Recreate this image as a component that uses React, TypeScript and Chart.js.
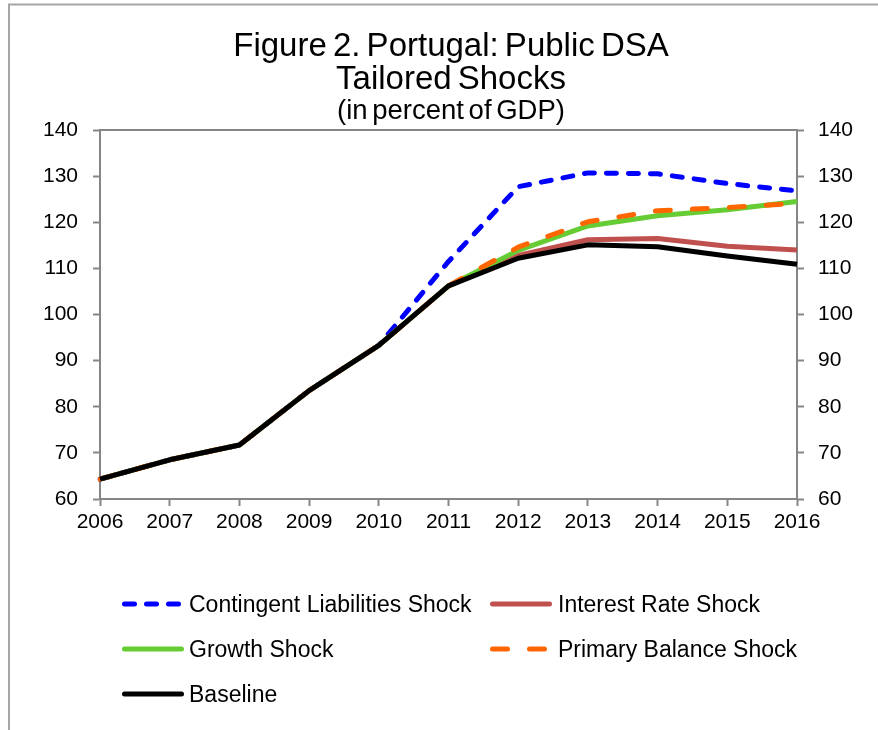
import React, { useEffect, useRef } from "react";
import { Chart, registerables } from "chart.js";

Chart.register(...registerables);

const years = ["2006", "2007", "2008", "2009", "2010", "2011", "2012", "2013", "2014", "2015", "2016"];
const contingentLiabilities = [64.3, 68.5, 71.7, 83.5, 93.3, 111.5, 127.7, 130.7, 130.5, 128.4, 126.8];
const interestRate = [64.3, 68.5, 71.7, 83.5, 93.3, 106.2, 112.8, 116.2, 116.5, 114.8, 114.0];
const growth = [64.3, 68.5, 71.7, 83.5, 93.3, 106.2, 113.9, 119.2, 121.4, 122.7, 124.5];
const primaryBalance = [64.3, 68.5, 71.7, 83.5, 93.3, 106.2, 114.6, 120.1, 122.5, 123.2, 124.1];
const baseline = [64.3, 68.5, 71.7, 83.5, 93.3, 106.2, 112.2, 115.1, 114.7, 112.7, 110.9];

const titleLines = ["Figure 2. Portugal: Public DSA", "Tailored Shocks"];
const subtitle = "(in percent of GDP)";
const yMin = 60;
const yMax = 140;
const yStep = 10;

const FONT = "'Liberation Sans', Arial, sans-serif";
const AXIS = "#868686";

const overlayPlugin = {
  id: "overlay",
  afterDraw(chart: any) {
    const ctx = chart.ctx;
    const area = chart.chartArea;
    ctx.save();
    // outer frame
    ctx.strokeStyle = "#a6a6a6";
    ctx.lineWidth = 2;
    ctx.beginPath();
    ctx.moveTo(9, 740);
    ctx.lineTo(9, 4.5);
    ctx.lineTo(890, 4.5);
    ctx.stroke();
    // top border of plot
    ctx.strokeStyle = AXIS;
    ctx.lineWidth = 2;
    ctx.beginPath();
    ctx.moveTo(area.left, area.top);
    ctx.lineTo(area.right, area.top);
    ctx.stroke();
    // title
    ctx.fillStyle = "#000";
    ctx.textAlign = "center";
    ctx.textBaseline = "alphabetic";
    try { (ctx as any).wordSpacing = "-3px"; } catch (e) {}
    ctx.font = `33px ${FONT}`;
    ctx.fillText(titleLines[0], 451, 56);
    ctx.fillText(titleLines[1], 451, 89);
    ctx.font = `27.5px ${FONT}`;
    ctx.fillText(subtitle, 451, 119);
    try { (ctx as any).wordSpacing = "0px"; } catch (e) {}
    // legend
    const slots = [
      { x: 124.5, tx: 189, y: 604 },
      { x: 492.5, tx: 558, y: 604 },
      { x: 124.5, tx: 189, y: 649 },
      { x: 492.5, tx: 558, y: 649 },
      { x: 124.5, tx: 189, y: 694 },
    ];
    chart.data.datasets.forEach((ds: any, i: number) => {
      const s = slots[i];
      ctx.strokeStyle = ds.borderColor;
      ctx.lineWidth = 5;
      ctx.lineCap = "round";
      ctx.setLineDash(ds.borderDash || []);
      ctx.beginPath();
      ctx.moveTo(s.x, s.y);
      ctx.lineTo(s.x + 57, s.y);
      ctx.stroke();
      ctx.setLineDash([]);
      ctx.fillStyle = "#000";
      ctx.textAlign = "left";
      ctx.textBaseline = "middle";
      ctx.font = `23px ${FONT}`;
      ctx.fillText(ds.label, s.tx, s.y + 1.5);
    });
    ctx.restore();
  },
};

export default function App() {
  const ref = useRef<HTMLCanvasElement | null>(null);
  useEffect(() => {
    if (!ref.current) return;
    const common = { pointRadius: 0, borderWidth: 5, tension: 0, fill: false, borderJoinStyle: "round" as const };
    const chart = new Chart(ref.current, {
      type: "line",
      data: {
        labels: years,
        datasets: [
          { ...common, label: "Contingent Liabilities Shock", data: contingentLiabilities, borderColor: "#0000ff", borderDash: [10, 12], borderCapStyle: "round", order: 5 },
          { ...common, label: "Interest Rate Shock", data: interestRate, borderColor: "#c0504d", order: 4 },
          { ...common, label: "Growth Shock", data: growth, borderColor: "#66cc33", order: 3 },
          { ...common, label: "Primary Balance Shock", data: primaryBalance, borderColor: "#ff6600", borderDash: [15, 22], borderCapStyle: "round", order: 2 },
          { ...common, label: "Baseline", data: baseline, borderColor: "#000000", order: 1 },
        ],
      },
      options: {
        responsive: false,
        animation: false,
        layout: { padding: { left: 0, right: 0, top: 130, bottom: 191 } },
        plugins: {
          legend: { display: false },
          title: { display: false },
          tooltip: { enabled: false },
        },
        scales: {
          x: {
            offset: false,
            grid: { drawOnChartArea: false, drawTicks: true, tickLength: 7, tickWidth: 2, tickColor: AXIS },
            border: { color: AXIS, width: 2 },
            ticks: { color: "#000", font: { family: FONT, size: 21 }, padding: 4, maxRotation: 0, autoSkip: false },
            afterFit: (s: any) => { s.height = 40; },
          },
          y: {
            position: "left",
            min: yMin,
            max: yMax,
            grid: { drawOnChartArea: false, drawTicks: true, tickLength: 7, tickWidth: 2, tickColor: AXIS },
            border: { color: AXIS, width: 2 },
            ticks: { stepSize: yStep, color: "#000", font: { family: FONT, size: 21 }, padding: 15 },
            afterFit: (s: any) => { s.width = 100; },
          },
          y2: {
            position: "right",
            min: yMin,
            max: yMax,
            grid: { drawOnChartArea: false, drawTicks: true, tickLength: 7, tickWidth: 2, tickColor: AXIS },
            border: { color: AXIS, width: 2 },
            ticks: { stepSize: yStep, color: "#000", font: { family: FONT, size: 21 }, padding: 14 },
            afterFit: (s: any) => { s.width = 81; },
          },
        },
      },
      plugins: [overlayPlugin],
    });
    return () => chart.destroy();
  }, []);
  return (
    <div style={{ position: "absolute", left: 0, top: 0, width: 878, height: 730, background: "#fff" }}>
      <canvas ref={ref} width={878} height={730} style={{ display: "block" }} />
    </div>
  );
}
